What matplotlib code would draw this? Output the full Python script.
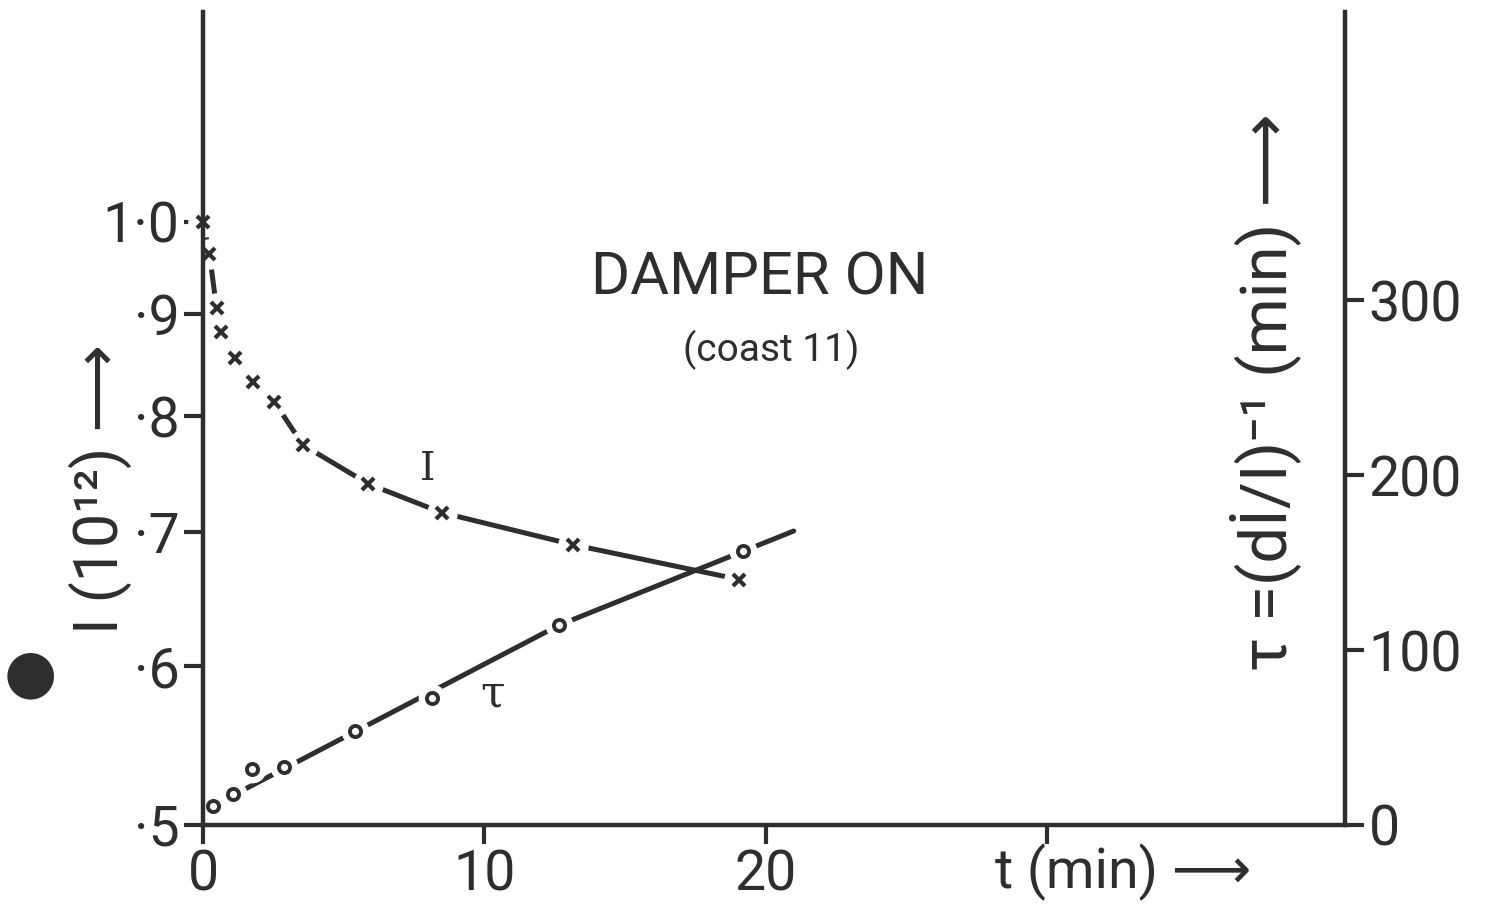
import matplotlib
matplotlib.use("Agg")
import matplotlib.pyplot as plt

# beam intensity I (10^12), crosses, left log axis
i_time = [0.0, 0.23, 0.48, 0.64, 1.14, 1.79, 2.54, 3.55, 5.88, 8.49, 13.17, 19.07]
i_value = [1.0, 0.964, 0.906, 0.881, 0.855, 0.832, 0.813, 0.774, 0.740, 0.716, 0.690, 0.663]

# lifetime tau (min), circles, right axis
tau_time = [0.36, 1.07, 1.74, 2.88, 5.41, 8.15, 12.67, 19.2]
tau_value = [10.9, 17.7, 32.0, 33.1, 53.7, 72.6, 114.3, 156.6]

# hand-drawn guide through the tau points
tau_curve_time = [0.36, 12.67, 21.0]
tau_curve_value = [11.0, 114.3, 168.0]

left_ticks = [0.5, 0.6, 0.7, 0.8, 0.9, 1.0]
left_labels = ["·5", "·6", "·7", "·8", "·9", "1·0"]
right_ticks = [0, 100, 200, 300]
x_ticks = [0, 10, 20, 30]
x_labels = ["0", "10", "20", ""]

ink = "#2e2e2e"
fonts = ["Roboto", "DejaVu Sans"]
plt.rcParams["font.family"] = fonts
plt.rcParams["text.color"] = ink

W, H = 1489, 921
fig = plt.figure(figsize=(W / 100, H / 100), dpi=100)
ax = fig.add_axes([203 / W, 1 - 825 / H, (1345 - 203) / W, (825 - 12) / H])
ax2 = ax.twinx()

ax.set_xlim(0, 40.6)
ax.set_yscale("log")
ax.set_ylim(0.5, 1.273)
ax2.set_ylim(0, 464.6)

# spines drawn by the twin so they stay on top of the marker halos
for a in (ax, ax2):
    for s in a.spines.values():
        s.set_linewidth(3.2)
        s.set_color(ink)
        s.set_visible(False)
ax2.spines["left"].set_visible(True)
ax2.spines["right"].set_visible(True)
ax2.spines["bottom"].set_visible(True)

ax.set_yticks(left_ticks)
ax.set_yticklabels(left_labels)
ax.yaxis.set_minor_locator(matplotlib.ticker.NullLocator())
ax.set_xticks(x_ticks)
ax.set_xticklabels(x_labels)
ax2.set_yticks(right_ticks)
ax2.set_yticklabels([str(v) for v in right_ticks])

ax.tick_params(axis="both", direction="out", length=14, width=3, colors=ink,
               labelsize=40, pad=3)
ax2.tick_params(axis="y", direction="out", length=14, width=3, colors=ink,
                labelsize=40, pad=3)

lw = 3.6
# I curve: line broken around each marker
ax.plot(i_time, i_value, color=ink, lw=lw, solid_capstyle="round", zorder=2.0, clip_on=False)
ax.plot(i_time, i_value, ls="none", marker="o", ms=22, mfc="white", mec="none",
        zorder=2.1, clip_on=False)
ax.plot(i_time, i_value, ls="none", marker="x", ms=9, mew=3, color=ink, zorder=2.2,
        clip_on=False)

# tau curve
ax2.plot(tau_curve_time, tau_curve_value, color=ink, lw=lw, solid_capstyle="round", zorder=2.0)
ax2.plot(tau_time, tau_value, ls="none", marker="o", ms=20, mfc="white", mec="none", zorder=2.1)
ax2.plot(tau_time, tau_value, ls="none", marker="o", ms=8, mfc="white", mec=ink, mew=2.8,
         zorder=2.2)

# curve labels
ax.text(8.0, 0.752, "I", fontsize=28, ha="center", va="center", family="DejaVu Serif")
ax2.text(10.3, 75, "τ", fontsize=32, ha="center", va="center", family="DejaVu Serif")

fig.text(760 / W, 1 - 278 / H, "DAMPER ON", fontsize=43, ha="center", va="center")
fig.text(771 / W, 1 - 350 / H, "(coast 11)", fontsize=28, ha="center", va="center")

fig.text(995 / W, 1 - 872 / H, "t (min) ⟶", fontsize=40, ha="left", va="center")
fig.text(100 / W, 1 - 489 / H, "I (10¹²) ⟶", fontsize=44, rotation=90,
         ha="center", va="center", family=fonts)
fig.text(1265 / W, 1 - 392 / H, "τ =(dİ/I)⁻¹ (min) ⟶", fontsize=47, rotation=90,
         ha="center", va="center", family=fonts)

# punched hole on the scanned page
fig.text(30 / W, 1 - 675 / H, "●", fontsize=44, ha="center", va="center", color=ink,
         family="DejaVu Sans")

fig.savefig("out.png", dpi=100, facecolor="white")
